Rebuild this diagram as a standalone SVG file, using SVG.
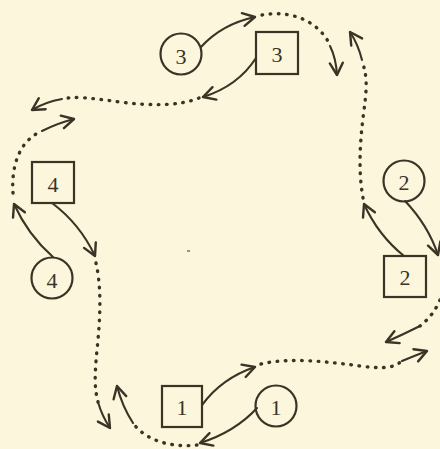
<svg xmlns="http://www.w3.org/2000/svg" width="440" height="449" viewBox="0 0 440 449">
  <defs>
    <marker id="ah" markerWidth="20" markerHeight="20" refX="14" refY="8" orient="auto" markerUnits="userSpaceOnUse">
      <path d="M2 1.5 L14 8 L2 14.5" fill="none" stroke="#3a3326" stroke-width="2.4" stroke-linecap="round" stroke-linejoin="round"/>
    </marker>
    <style>
      .arrow { fill: none; stroke: #3a3326; stroke-width: 2.1; stroke-linecap: round; marker-end: url(#ah); }
      .dots { fill: none; stroke: #3a3326; stroke-width: 3.4; stroke-linecap: round; stroke-dasharray: 0.6 7.6; }
      .box { fill: none; stroke: #3a3326; stroke-width: 2.2; }
      .num { font-family: "Liberation Serif", "DejaVu Serif", serif; font-size: 22px; fill: #3a3326; text-anchor: middle; dominant-baseline: central; }
    </style>
  </defs>

  <rect x="0" y="0" width="440" height="449" fill="#fcf6dc"/>
  <rect x="187" y="250" width="3" height="2" fill="#9a9385"/>

  <!-- nodes -->
  <g id="circle-3">
    <circle cx="181" cy="54" r="20.5" class="box"/>
    <text x="181" y="56" class="num">3</text>
  </g>
  <g id="square-3">
    <rect x="256" y="32" width="42" height="42" class="box"/>
    <text x="277" y="54" class="num">3</text>
  </g>
  <g id="square-4">
    <rect x="32" y="162" width="42" height="41" class="box"/>
    <text x="53" y="184" class="num">4</text>
  </g>
  <g id="circle-4">
    <circle cx="52" cy="278" r="20.5" class="box"/>
    <text x="52" y="280" class="num">4</text>
  </g>
  <g id="circle-2">
    <circle cx="404" cy="181" r="20.5" class="box"/>
    <text x="404" y="182" class="num">2</text>
  </g>
  <g id="square-2">
    <rect x="384" y="256" width="42" height="41" class="box"/>
    <text x="405" y="277" class="num">2</text>
  </g>
  <g id="square-1">
    <rect x="162" y="386" width="40" height="41" class="box"/>
    <text x="182" y="407" class="num">1</text>
  </g>
  <g id="circle-1">
    <circle cx="276" cy="406" r="20.5" class="box"/>
    <text x="276" y="407" class="num">1</text>
  </g>

  <!-- connectors -->
  <g id="connectors">
    <!-- 3 links -->
    <path class="arrow" d="M201 47 Q222 24 255 17"/>
    <path class="dots" d="M262 15 C290 10 318 20 330 45"/>
    <path class="arrow" d="M330 46 Q336 58 337 75"/>
    <path class="arrow" d="M256 58 Q238 86 203 97"/>
    <path class="dots" d="M199 98 C180 106 150 106 120 102 S75 96 62 99"/>
    <path class="arrow" d="M62 99 Q45 102 32 110"/>

    <!-- 4 links -->
    <path class="dots" d="M13 193 C11 165 20 140 42 131"/>
    <path class="arrow" d="M42 131 Q58 123 74 119"/>
    <path class="arrow" d="M53 257 Q28 235 14 204"/>
    <path class="arrow" d="M52 203 Q80 224 95 256"/>
    <path class="dots" d="M96 263 C102 290 100 320 97 350 S95 390 98 402"/>
    <path class="arrow" d="M98 402 Q102 416 110 428"/>

    <!-- 1 links -->
    <path class="dots" d="M197 445 C170 448 145 440 133 423"/>
    <path class="arrow" d="M133 423 Q122 406 117 386"/>
    <path class="arrow" d="M257 408 Q235 432 200 443"/>
    <path class="arrow" d="M202 405 Q222 378 255 367"/>
    <path class="dots" d="M261 364 C290 357 330 362 360 366 S395 366 402 361"/>
    <path class="arrow" d="M402 361 Q414 356 427 351"/>

    <!-- 2 links -->
    <path class="dots" d="M440 300 Q433 316 420 326"/>
    <path class="arrow" d="M420 326 Q402 335 386 342"/>
    <path class="arrow" d="M405 201 Q428 225 438 255"/>
    <path class="arrow" d="M404 256 Q378 235 364 204"/>
    <path class="dots" d="M363 198 C358 170 360 140 364 110 S366 75 362 60"/>
    <path class="arrow" d="M362 60 Q358 44 350 32"/>
  </g>
</svg>
